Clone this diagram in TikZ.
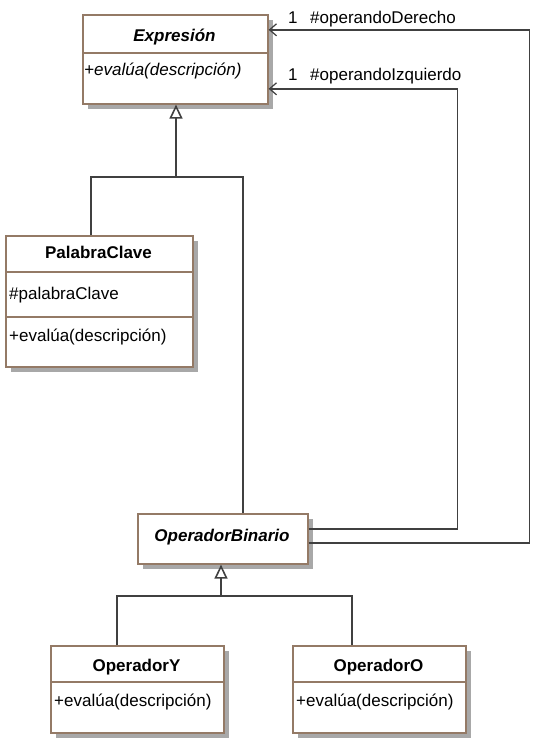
\documentclass[tikz,border=0pt]{standalone}
\usepackage{fontspec}
\setmainfont{Liberation Sans}
\usetikzlibrary{arrows.meta,shadows}
\definecolor{edge}{HTML}{947A66}
\definecolor{wire}{HTML}{404040}
\definecolor{shade}{HTML}{A8A8A8}
\begin{document}
\begin{tikzpicture}[x=1pt,y=-1pt,
  classbox/.style={draw=edge,line width=1.6pt,fill=white,inner sep=0pt,
    anchor=north west,
    drop shadow={shadow xshift=5pt,shadow yshift=-5pt,fill=shade,opacity=1}},
  divider/.style={draw=edge,line width=1.6pt},
  title/.style={font=\fontsize{17}{20}\selectfont\bfseries,anchor=base,inner sep=0pt},
  atitle/.style={title,font=\fontsize{17}{20}\selectfont\bfseries\itshape},
  member/.style={font=\fontsize{17}{20}\selectfont,anchor=base west,inner sep=0pt},
  amember/.style={member,font=\fontsize{17}{20}\selectfont\itshape},
  conn/.style={draw=wire,line width=1.6pt},
  gen/.style={conn,-{Triangle[open,length=14pt,width=13pt,fill=white]}},
  assoc/.style={conn,-{Straight Barb[length=7pt,width=12pt,line width=1.2pt]}},
  rolelabel/.style={font=\fontsize{17}{20}\selectfont,anchor=base west,inner sep=0pt},
]
\useasboundingbox[fill=white] (0,0) rectangle (540,745);

% --- abstract class Expresion
\node[classbox,minimum width=185pt,minimum height=89pt] (expr) at (82,14) {};
\draw[divider] (82,53) -- (267,53);
\node[atitle] (exprT) at (174.5,41) {Expresión};
\node[amember] (exprM) at (84,75) {+evalúa(descripción)};

% --- PalabraClave
\node[classbox,minimum width=187pt,minimum height=131pt] (palabra) at (5,235) {};
\draw[divider] (5,272) -- (192,272);
\draw[divider] (5,317) -- (192,317);
\node[title] (palabraT) at (98.5,258) {PalabraClave};
\node[member] (palabraA) at (9,299) {\#palabraClave};
\node[member] (palabraM) at (9,341) {+evalúa(descripción)};

% --- abstract class OperadorBinario
\node[classbox,minimum width=170pt,minimum height=50pt] (bin) at (137,513) {};
\node[atitle] (binT) at (222,541) {OperadorBinario};

% --- OperadorY
\node[classbox,minimum width=173pt,minimum height=87pt] (opy) at (50,645) {};
\draw[divider] (50,682) -- (223,682);
\node[title] (opyT) at (136.5,671) {OperadorY};
\node[member] (opyM) at (54,706) {+evalúa(descripción)};

% --- OperadorO
\node[classbox,minimum width=173pt,minimum height=87pt] (opo) at (292,645) {};
\draw[divider] (292,682) -- (465,682);
\node[title] (opoT) at (378.5,671) {OperadorO};
\node[member] (opoM) at (296,706) {+evalúa(descripción)};

% --- generalisation towards Expresion
\coordinate (j1) at (176,177);
\draw[conn] ([xshift=-8.5pt]palabra.north) |- (j1);
\draw[conn] ([xshift=20pt]bin.north) |- (j1);
\draw[gen] (j1) -- (expr.south -| j1);

% --- generalisation towards OperadorBinario
\coordinate (j2) at (221,596);
\draw[conn] ([xshift=-20.5pt]opy.north) |- (j2);
\draw[conn] ([xshift=-27.5pt]opo.north) |- (j2);
\draw[gen] (j2) -- (bin.south -| j2);

% --- operand associations
\draw[assoc] ([yshift=10pt]bin.east) -- ++(149,0) |- ([yshift=-29.5pt]expr.east);
\draw[assoc] ([yshift=-4pt]bin.east) -- ++(221,0) |- ([yshift=29.5pt]expr.east);
\node[rolelabel] (izqM) at (288,80) {1};
\node[rolelabel] (izqR) at (310,80) {\#operandoIzquierdo};
\node[rolelabel] (derM) at (288,23) {1};
\node[rolelabel] (derR) at (310,23) {\#operandoDerecho};
\end{tikzpicture}
\end{document}
